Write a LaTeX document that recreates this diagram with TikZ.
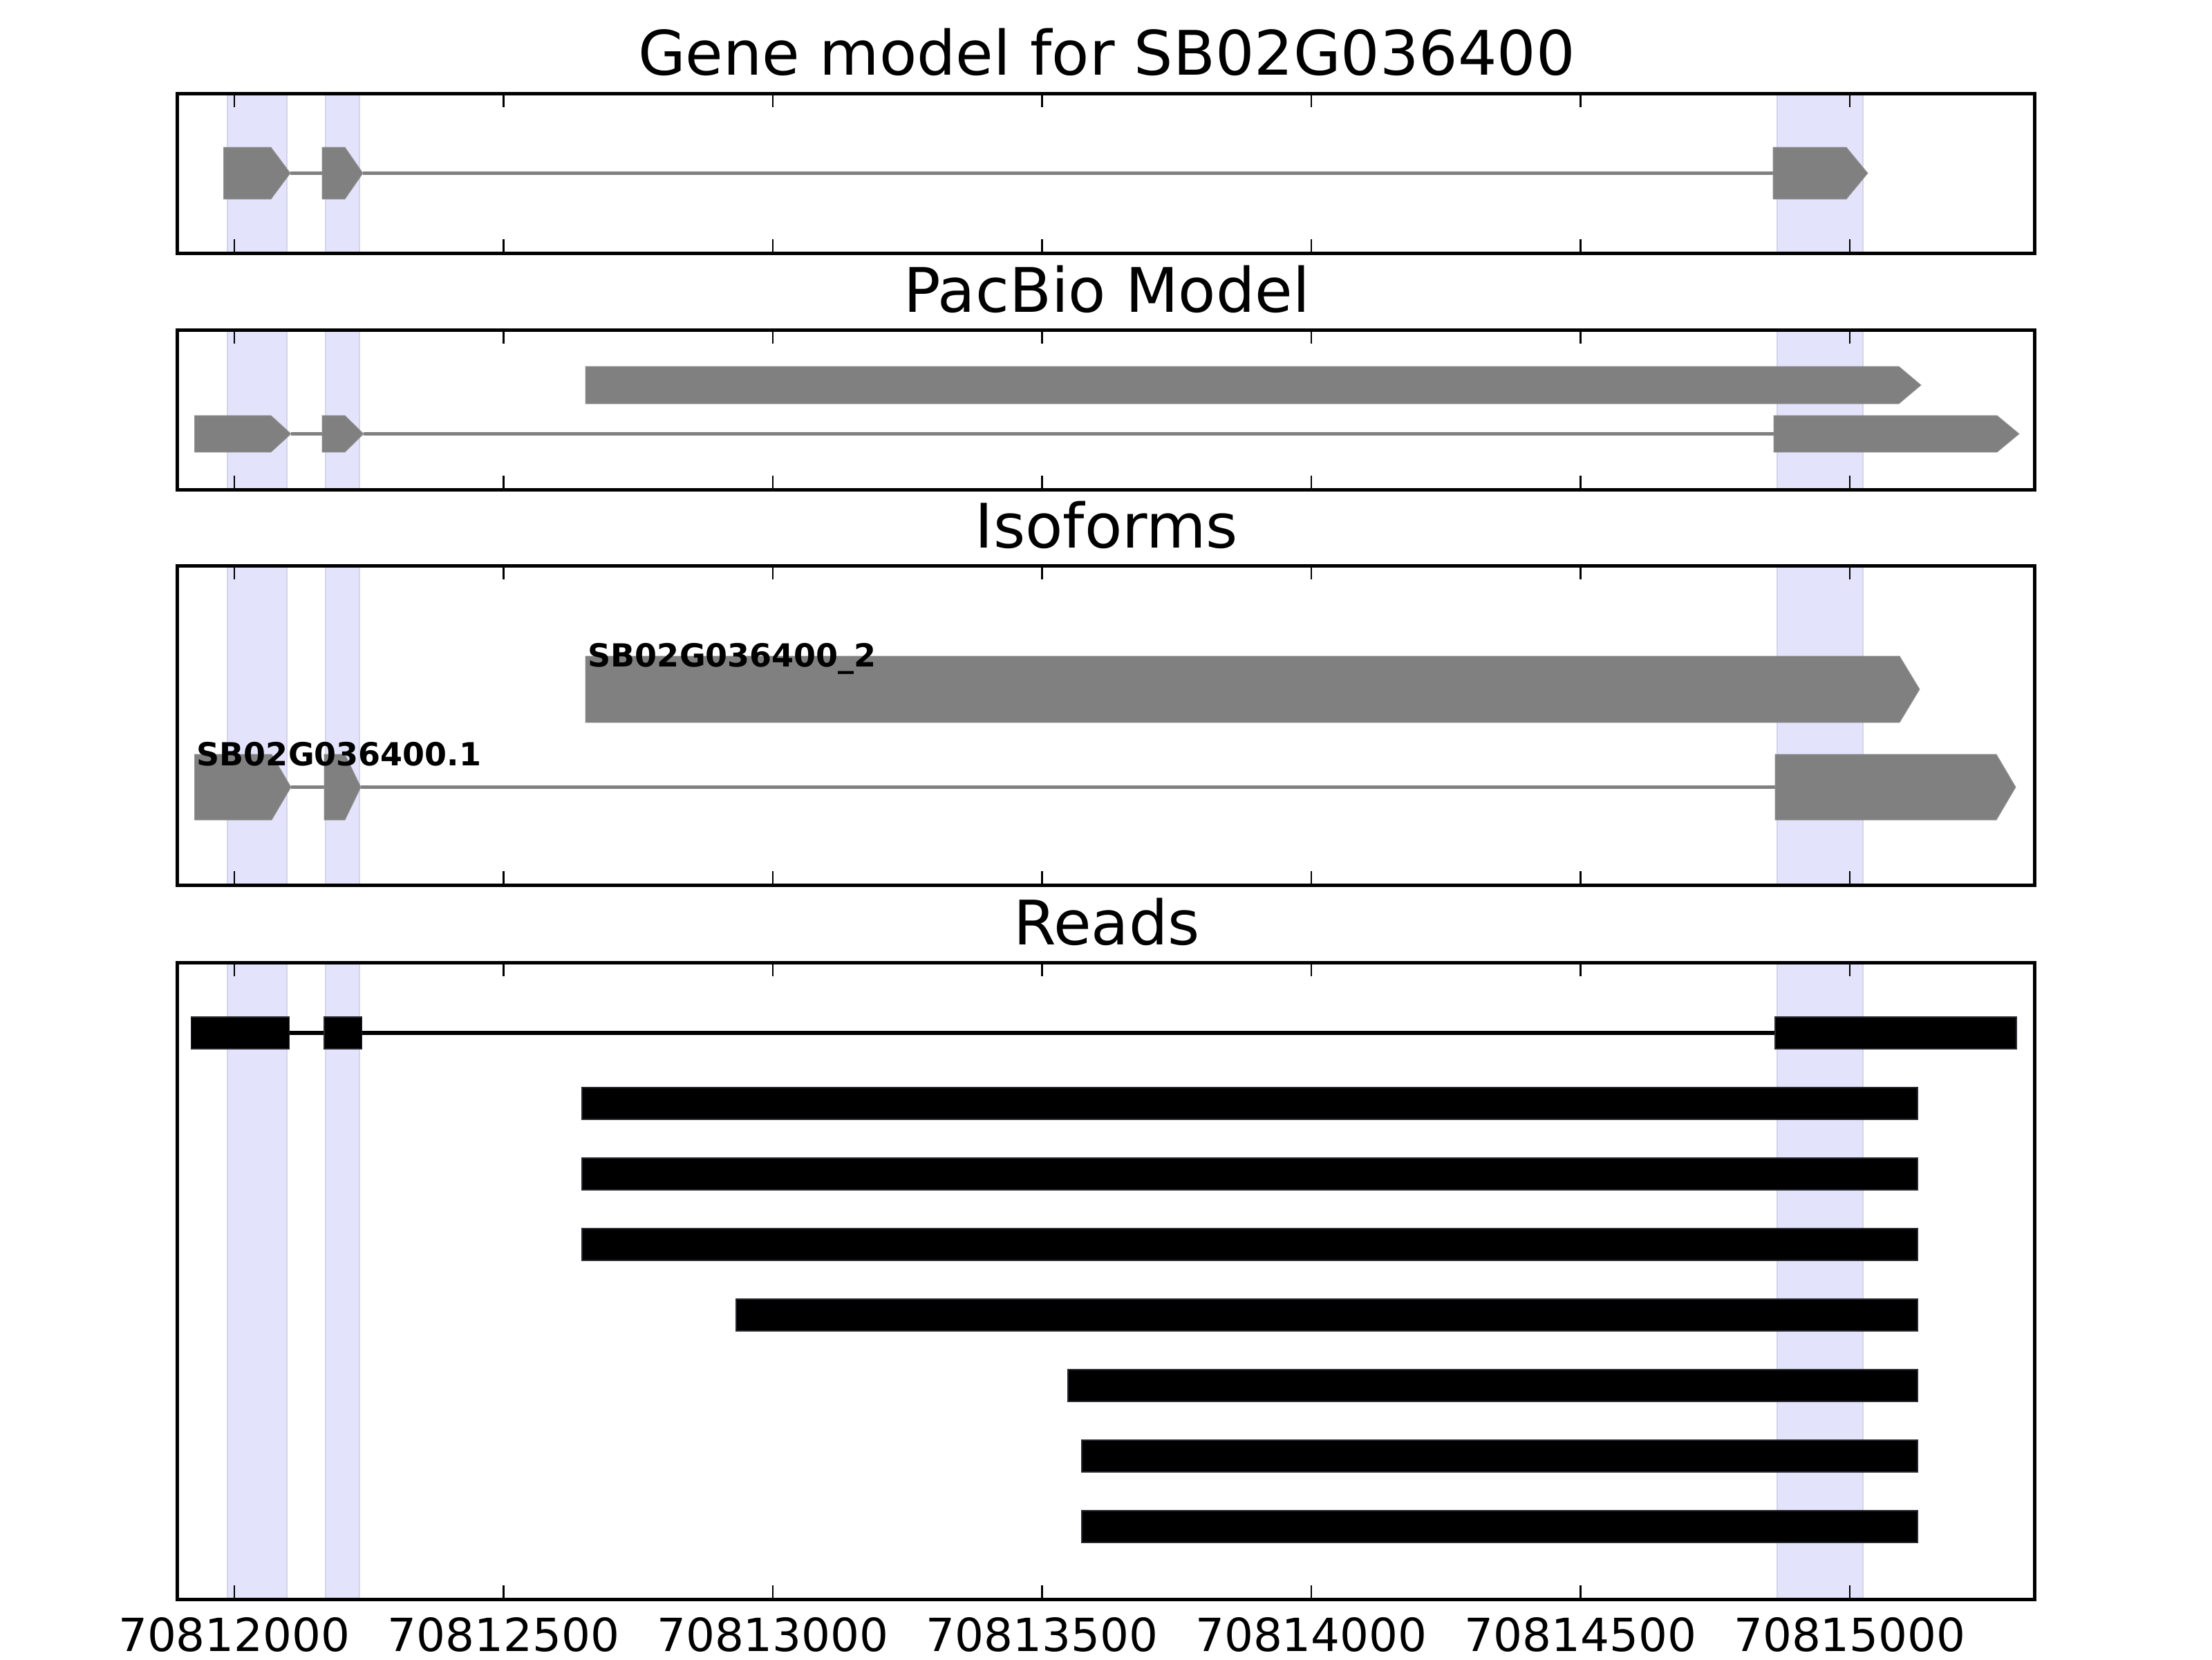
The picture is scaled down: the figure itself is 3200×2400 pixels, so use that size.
\documentclass[tikz,border=0pt]{standalone}
\usepackage{fontspec}
\setmainfont{DejaVu Sans}
\definecolor{genegray}{RGB}{128,128,128}
\definecolor{geneedge}{RGB}{150,150,150}
\definecolor{bandfill}{RGB}{227,227,252}
\definecolor{bandedge}{RGB}{212,212,234}
\definecolor{readedge}{RGB}{40,40,48}
\tikzset{
  panelframe/.style={draw=black, line width=1.25pt},
  bandbox/.style={fill=bandfill, draw=bandedge, line width=0.5pt},
  exonshape/.style={fill=genegray, draw=geneedge, line width=0.2pt},
  intronline/.style={draw=genegray, line width=1.3pt},
  readbar/.style={fill=black, draw=readedge, line width=0.4pt},
  readline/.style={draw=black, line width=1.3pt},
  tickmark/.style={draw=black, line width=0.7pt},
  paneltitle/.style={anchor=base, inner sep=0pt, font=\fontsize{22.2}{27}\selectfont},
  ticklabel/.style={anchor=base, inner sep=0pt, font=\fontsize{16.5}{20}\selectfont},
  isolabel/.style={anchor=base west, inner sep=0pt, font=\bfseries\fontsize{11.5}{14}\selectfont}
}
\newcommand{\gexon}[5]{\path[exonshape] (#1,#4) -- (#2,#4) -- (#3,{(#4+#5)/2}) -- (#2,#5) -- (#1,#5) -- cycle;}
\begin{document}
\begin{tikzpicture}[x=0.25pt,y=-0.25pt]
\useasboundingbox (0,0) rectangle (3200,2400);
% shaded exon bands
\foreach \t/\b in {135/366,477/708,818/1280,1392/2313}{
  \foreach \l/\r in {329/415,471/520,2571/2695}{
    \path[bandbox] (\l,\t) rectangle (\r,\b);
  }
}
% Panel 1: gene model
\draw[intronline] (420,250.5) -- (466,250.5);
\draw[intronline] (525,250.5) -- (2565,250.5);
\gexon{323.5}{392}{420}{213}{288}
\gexon{466}{499}{525}{213}{288}
\gexon{2565}{2671}{2702}{213}{288}
% Panel 2: PacBio model
\gexon{847}{2747}{2779}{530}{584}
\draw[intronline] (421,627.5) -- (466,627.5);
\draw[intronline] (526,627.5) -- (2566,627.5);
\gexon{281.5}{392}{421}{601}{654}
\gexon{466}{499}{526}{601}{654}
\gexon{2566}{2889}{2921}{601}{654}
% Panel 3: isoforms
\gexon{847}{2748}{2777}{949}{1045}
\draw[intronline] (421,1138.5) -- (469,1138.5);
\draw[intronline] (522,1138.5) -- (2568,1138.5);
\gexon{281.5}{393}{421}{1091}{1186}
\gexon{469}{499}{522}{1091}{1186}
\gexon{2568}{2888}{2916}{1091}{1186}
\node[isolabel] (iso2) at (850,964) {SB02G036400\_2};
\node[isolabel] (iso1) at (284,1107) {SB02G036400.1};
% Panel 4: reads
\draw[readline] (418.6,1494) -- (2568,1494);
\path[readbar] (276.6,1471) rectangle (418.6,1517);
\path[readbar] (469,1471) rectangle (523.5,1517);
\path[readbar] (2568,1471) rectangle (2917,1517);
\foreach \s [count=\i] in {842,842,842,1065,1545,1565,1565}{
  \path[readbar] (\s,{1494+102*\i-23}) rectangle (2774,{1494+102*\i+23});
}
% frames and ticks
\foreach \t/\b in {135/366,477/708,818/1280,1392/2313}{
  \foreach \k in {0,...,6}{
    \draw[tickmark] ({339+389.5*\k},\t) -- ({339+389.5*\k},{\t+20});
    \draw[tickmark] ({339+389.5*\k},\b) -- ({339+389.5*\k},{\b-20});
  }
  \path[panelframe] (256,\t) rectangle (2943,\b);
}
% titles
\node[paneltitle] (title1) at (1601,108) {Gene model for SB02G036400};
\node[paneltitle] (title2) at (1601,451) {PacBio Model};
\node[paneltitle] (title3) at (1601,792) {Isoforms};
\node[paneltitle] (title4) at (1601,1366) {Reads};
% tick labels
\foreach \k/\lab in {0/70812000,1/70812500,2/70813000,3/70813500,4/70814000,5/70814500,6/70815000}{
  \node[ticklabel] (tl\k) at ({339+389.5*\k},2388) {\lab};
}
\end{tikzpicture}
\end{document}
